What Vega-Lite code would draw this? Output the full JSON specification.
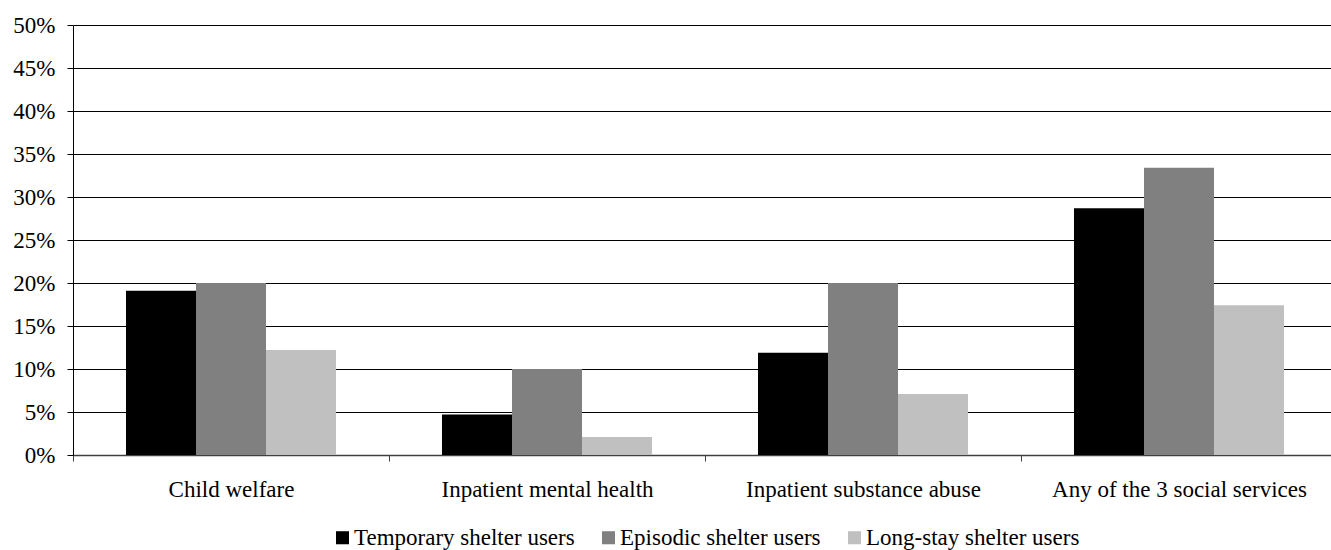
{
  "$schema": "https://vega.github.io/schema/vega-lite/v6.json",
  "autosize": "none",
  "width": 1264,
  "height": 430,
  "padding": {"left": 73, "top": 25, "right": 0, "bottom": 95},
  "background": "white",
  "data": {
    "values": [
      {"category": "Child welfare", "group": "Temporary shelter users", "value": 19.1},
      {"category": "Child welfare", "group": "Episodic shelter users", "value": 20.0},
      {"category": "Child welfare", "group": "Long-stay shelter users", "value": 12.2},
      {"category": "Inpatient mental health", "group": "Temporary shelter users", "value": 4.7},
      {"category": "Inpatient mental health", "group": "Episodic shelter users", "value": 10.0},
      {"category": "Inpatient mental health", "group": "Long-stay shelter users", "value": 2.1},
      {"category": "Inpatient substance abuse", "group": "Temporary shelter users", "value": 11.9},
      {"category": "Inpatient substance abuse", "group": "Episodic shelter users", "value": 20.0},
      {"category": "Inpatient substance abuse", "group": "Long-stay shelter users", "value": 7.1},
      {"category": "Any of the 3 social services", "group": "Temporary shelter users", "value": 28.7},
      {"category": "Any of the 3 social services", "group": "Episodic shelter users", "value": 33.4},
      {"category": "Any of the 3 social services", "group": "Long-stay shelter users", "value": 17.4}
    ]
  },
  "mark": {"type": "bar"},
  "encoding": {
    "x": {
      "field": "category",
      "type": "nominal",
      "sort": null,
      "scale": {"paddingInner": 0, "paddingOuter": 0},
      "axis": {
        "title": null,
        "labelAngle": 0,
        "tickBand": "extent",
        "tickSize": 6,
        "tickColor": "#404040",
        "domainColor": "#404040",
        "domainWidth": 1.5,
        "labelPadding": 17,
        "labelLimit": 0,
        "labelFont": "Liberation Serif",
        "labelFontSize": 23,
        "labelColor": "#000"
      }
    },
    "xOffset": {
      "field": "group",
      "type": "nominal",
      "sort": ["Temporary shelter users", "Episodic shelter users", "Long-stay shelter users"],
      "scale": {"paddingInner": 0, "paddingOuter": 0.757}
    },
    "y": {
      "field": "value",
      "type": "quantitative",
      "scale": {"domain": [0, 50], "nice": false},
      "axis": {
        "title": null,
        "values": [0, 5, 10, 15, 20, 25, 30, 35, 40, 45, 50],
        "labelExpr": "datum.value + '%'",
        "grid": true,
        "gridColor": "#000",
        "gridWidth": 1,
        "tickColor": "#000",
        "tickSize": 6,
        "domainColor": "#000",
        "labelPadding": 12,
        "labelFont": "Liberation Serif",
        "labelFontSize": 23,
        "labelColor": "#000"
      }
    },
    "color": {
      "field": "group",
      "type": "nominal",
      "sort": ["Temporary shelter users", "Episodic shelter users", "Long-stay shelter users"],
      "scale": {
        "domain": ["Temporary shelter users", "Episodic shelter users", "Long-stay shelter users"],
        "range": ["#000000", "#808080", "#c0c0c0"]
      },
      "legend": {
        "title": null,
        "orient": "bottom",
        "direction": "horizontal",
        "symbolType": "square",
        "symbolSize": 170,
        "symbolStrokeWidth": 0,
        "labelOffset": 0,
        "labelLimit": 0,
        "labelFont": "Liberation Serif",
        "labelFontSize": 23,
        "labelColor": "#000",
        "columnPadding": 22,
        "offset": 25
      }
    }
  },
  "config": {
    "view": {"stroke": null},
    "legend": {"layout": {"bottom": {"anchor": "middle"}}}
  }
}
